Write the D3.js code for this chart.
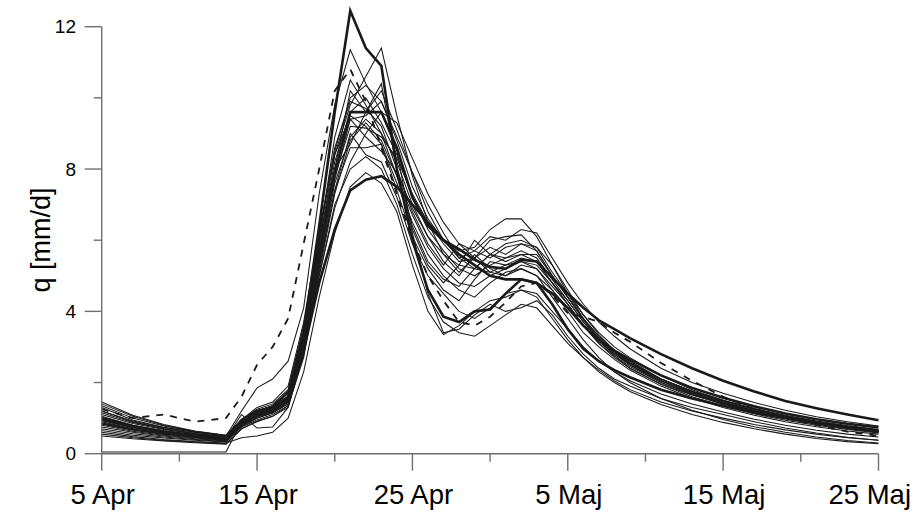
<!DOCTYPE html>
<html><head><meta charset="utf-8">
<script src="https://cdn.jsdelivr.net/npm/d3@7"></script>
<style>body{margin:0;background:#fff}svg{display:block}</style>
</head><body><svg id="c" width="917" height="514"></svg>
<script>
// day offsets from 5 Apr at which values are given
const days = [0,2,4,6,8, 9,10,11,12,13,14,15, 16,17,18, 19,20,21,22,23, 24,25,26,27,28,29,30, 31,32,33,34, 36,38,40,42,44,46,48,50];

const xTickDays = [0,10,20,30,40,50];
const xTickLabels = ["5 Apr","15 Apr","25 Apr","5 Maj","15 Maj","25 Maj"];
const xMinorDays = [5,15,25,35,45];
const yTicks = [0,4,8,12];
const yMinorTicks = [2,6,10];
const yTitle = "q [mm/d]";

// thin simulated series
const thinSeries = [
 [1.4,1.05,0.8,0.62,0.5, 1.2,1.85,2.1,2.6,4.1,7.3,9.8, 11.35,10.4,9.6, 8.5,6.2,4.5,3.4,3.5, 3.9,4.2,4.0,4.1,4.3,3.9,3.3, 2.8,2.4,2.1,1.9, 1.55,1.3,1.1,0.9,0.72,0.58,0.46,0.38],
 [1.1,0.85,0.68,0.56,0.46, 0.9,1.15,1.3,1.7,3.3,5.9,8.4, 9.8,10.6,11.4, 9.5,7.8,6.5,5.6,5.1, 5.5,6.0,6.1,6.15,5.7,5.0,4.4, 3.8,3.3,2.9,2.6, 2.1,1.75,1.45,1.2,1.0,0.85,0.72,0.62],
 [1.3,0.95,0.74,0.6,0.5, 0.88,1.2,1.35,1.75,3.5,6.1,8.5, 10.0,10.35,9.9, 8.8,7.5,6.6,6.0,5.7, 5.8,6.3,6.6,6.6,6.1,5.3,4.5, 3.8,3.2,2.75,2.4, 1.95,1.65,1.4,1.18,1.0,0.85,0.72,0.62],
 [0.9,0.7,0.57,0.48,0.4, 0.82,1.05,1.2,1.45,3.0,5.4,8.0, 10.2,9.6,10.4, 8.0,6.4,5.4,4.9,4.7, 5.2,5.6,5.5,5.7,5.5,4.9,4.3, 3.7,3.2,2.8,2.5, 2.05,1.72,1.45,1.22,1.03,0.88,0.75,0.64],
 [1.2,0.9,0.7,0.57,0.47, 0.9,1.2,1.35,1.7,3.3,5.8,8.0, 9.4,9.5,9.9, 8.9,7.9,7.0,6.2,5.5, 5.2,5.6,5.9,6.0,5.8,5.1,4.5, 3.9,3.4,3.0,2.7, 2.2,1.8,1.5,1.26,1.06,0.9,0.77,0.66],
 [0.75,0.6,0.5,0.42,0.36, 0.78,1.0,1.15,1.4,2.9,5.2,7.4, 8.6,8.6,8.7, 7.4,6.1,5.2,4.6,4.3, 4.9,5.4,5.3,5.5,5.4,4.8,4.2, 3.6,3.1,2.75,2.45, 2.0,1.68,1.42,1.2,1.02,0.86,0.74,0.63],
 [1.05,0.8,0.64,0.53,0.44, 1.1,0.72,0.75,1.3,2.8,5.0,7.0, 8.0,8.35,8.0, 7.0,5.6,4.4,3.7,3.4, 3.3,3.6,3.9,4.2,4.1,3.6,3.1, 2.7,2.35,2.05,1.8, 1.45,1.2,1.0,0.82,0.67,0.55,0.45,0.38],
 [0.6,0.48,0.4,0.34,0.3, 0.45,0.5,0.6,1.0,2.3,4.4,6.2, 7.5,7.9,7.6, 6.8,5.3,4.0,3.35,3.6, 4.0,4.3,4.4,4.6,4.4,3.8,3.2, 2.7,2.3,2.0,1.75, 1.38,1.1,0.88,0.7,0.55,0.43,0.34,0.28],
 [0.7,0.56,0.47,0.4,0.34, 0.8,1.0,1.15,1.45,3.0,5.6,7.8, 9.2,9.15,8.9, 8.3,7.3,6.5,5.9,5.4, 5.5,5.8,5.6,5.9,5.8,5.3,4.6, 3.9,3.35,2.9,2.55, 2.05,1.7,1.42,1.2,1.02,0.87,0.74,0.64],
 [1.15,0.88,0.7,0.57,0.47, 0.9,1.15,1.3,1.6,3.3,5.9,8.2, 9.6,10.0,9.3, 8.4,7.2,6.3,5.7,5.2, 5.0,5.3,5.5,5.6,5.6,5.0,4.4, 3.75,3.25,2.85,2.5, 2.0,1.66,1.4,1.18,1.0,0.85,0.72,0.6],
 [0.65,0.52,0.44,0.38,0.33, 0.75,0.95,1.1,1.35,2.8,5.3,7.6, 8.9,9.4,9.0, 8.2,7.0,6.1,5.4,5.0, 5.6,5.2,5.0,5.3,5.2,4.7,4.2, 3.6,3.15,2.8,2.5, 2.05,1.7,1.42,1.18,0.99,0.84,0.71,0.6],
 [1.35,1.0,0.78,0.62,0.52, 0.95,1.25,1.4,1.8,3.6,6.2,8.6, 9.9,9.7,9.2, 8.0,6.8,5.9,5.3,5.9, 5.7,5.5,5.8,5.9,5.7,5.0,4.4, 3.8,3.3,2.9,2.6, 2.1,1.75,1.48,1.25,1.06,0.9,0.77,0.67],
 [0.8,0.63,0.52,0.44,0.38, 0.8,1.0,1.15,1.4,2.8,5.0,6.9, 8.2,9.0,9.6, 9.3,8.3,7.3,6.5,5.9, 5.5,5.1,5.0,5.2,5.0,4.6,4.1, 3.6,3.2,2.85,2.55, 2.1,1.75,1.48,1.25,1.05,0.9,0.77,0.66],
 [0.05,0.05,0.05,0.05,0.05, 0.9,1.2,1.3,1.5,3.0,5.3,7.4, 9.0,8.4,8.2, 7.2,5.9,5.0,4.5,4.0, 3.8,4.1,4.5,4.6,4.5,4.0,3.5, 3.0,2.6,2.3,2.05, 1.68,1.4,1.17,0.97,0.8,0.66,0.55,0.47],
 [1.0,0.78,0.63,0.52,0.43, 0.85,1.1,1.25,1.55,3.2,6.0,8.9, 10.5,9.8,9.0, 7.8,6.3,5.3,4.8,5.3, 6.0,5.6,5.4,5.6,5.4,4.8,4.2, 3.6,3.1,2.7,2.4, 1.95,1.6,1.34,1.12,0.94,0.8,0.68,0.58],
 [0.55,0.45,0.38,0.33,0.28, 0.7,0.9,1.05,1.3,2.9,5.4,7.7, 9.4,8.9,8.5, 7.9,6.9,6.1,5.6,5.3, 5.2,5.1,5.3,5.4,5.3,4.8,4.3, 3.7,3.2,2.85,2.55, 2.1,1.76,1.5,1.27,1.08,0.92,0.79,0.68],
 [1.2,0.92,0.73,0.6,0.5, 0.92,1.2,1.35,1.75,3.4,6.0,8.0, 8.7,9.6,10.2, 9.1,7.9,6.8,6.0,5.5, 5.7,6.1,6.0,6.3,6.2,5.5,4.8, 4.2,3.7,3.3,2.95, 2.4,2.0,1.7,1.44,1.22,1.04,0.9,0.78],
 [1.45,1.08,0.82,0.64,0.52, 0.95,1.3,1.45,1.9,3.7,6.3,8.4, 9.5,9.2,8.7, 7.6,6.5,5.6,5.0,4.6, 4.4,4.8,5.1,5.2,5.0,4.4,3.8, 3.2,2.7,2.3,2.0, 1.55,1.22,0.96,0.76,0.6,0.47,0.37,0.3],
 [0.5,0.42,0.36,0.31,0.27, 0.7,0.92,1.05,1.35,2.7,5.1,7.3, 8.8,9.3,8.8, 7.8,6.7,5.8,5.2,4.8, 4.7,5.0,5.2,5.4,5.2,4.6,4.0, 3.4,3.0,2.65,2.35, 1.9,1.56,1.3,1.08,0.9,0.76,0.64,0.55]
];

// dashed series
const dashedSeries = [1.25,1.0,1.1,0.9,1.0, 1.6,2.5,3.0,3.8,5.9,8.0,10.2, 10.8,9.9,8.6, 7.3,6.0,5.0,4.3,3.7, 3.6,3.85,4.25,4.7,4.8,4.45,3.95, 3.85,3.7,3.4,3.15, 2.55,2.05,1.6,1.25,1.0,0.8,0.62,0.5];

// thick series
const thickA = [1.0,0.78,0.62,0.5,0.42, 0.95,1.2,1.3,1.6,3.4,6.4,9.6, 12.45,11.4,10.9, 8.0,6.0,4.6,3.85,3.7, 4.0,4.05,4.5,4.9,4.8,4.2,3.5, 2.95,2.6,2.35,2.15, 1.8,1.55,1.35,1.15,1.0,0.85,0.72,0.62];
const thickB = [0.95,0.75,0.62,0.52,0.45, 0.85,1.1,1.25,1.55,3.2,5.6,7.9, 9.6,9.6,9.6, 8.6,7.2,6.4,6.0,5.75, 5.45,5.25,5.2,5.45,5.4,4.95,4.5, 4.1,3.75,3.5,3.25, 2.8,2.4,2.05,1.75,1.48,1.28,1.1,0.94];
const thickC = [0.85,0.68,0.56,0.48,0.4, 0.8,1.05,1.2,1.5,2.9,4.8,6.3, 7.4,7.7,7.8, 7.5,7.0,6.5,6.0,5.6, 5.3,5.0,4.9,4.9,4.8,4.5,4.1, 3.6,3.2,2.9,2.65, 2.2,1.85,1.57,1.33,1.13,0.97,0.84,0.74];
const thickSeries = [thickA, thickB, thickC];

const svg = d3.select("#c");
const x = d3.scaleLinear().domain([0,50]).range([101.7, 878.5]);
const y = d3.scaleLinear().domain([0,12]).range([453.7, 26.7]);
const axisColor = "#6f6f6f";
const font = "Liberation Sans, Arial, Helvetica, sans-serif";

const line = d3.line().x((d,i)=>x(days[i])).y(d=>y(d));

const g = svg.append("g");
g.selectAll("path.thin").data(thinSeries).join("path")
  .attr("class","thin").attr("d", line)
  .attr("fill","none").attr("stroke","#1a1a1a").attr("stroke-width",1.05)
  .attr("stroke-linejoin","miter");
g.append("path").datum(dashedSeries).attr("d", line)
  .attr("fill","none").attr("stroke","#1a1a1a").attr("stroke-width",1.8)
  .attr("stroke-dasharray","7,7");
g.selectAll("path.thick").data(thickSeries).join("path")
  .attr("class","thick").attr("d", line)
  .attr("fill","none").attr("stroke","#1a1a1a").attr("stroke-width",2.6)
  .attr("stroke-linejoin","miter");

// axes
const ax = svg.append("g").attr("stroke", axisColor).attr("stroke-width",1.4).attr("fill","none");
ax.append("line").attr("x1", x(0)).attr("x2", x(0)).attr("y1", y(12)).attr("y2", y(0));
ax.append("line").attr("x1", x(0)).attr("x2", x(50)).attr("y1", y(0)).attr("y2", y(0));
ax.selectAll("line.yt").data(yTicks).join("line").attr("class","yt")
  .attr("x1", x(0)-17).attr("x2", x(0)).attr("y1", d=>y(d)).attr("y2", d=>y(d));
ax.selectAll("line.ym").data(yMinorTicks).join("line").attr("class","ym")
  .attr("x1", x(0)-8).attr("x2", x(0)).attr("y1", d=>y(d)).attr("y2", d=>y(d));
ax.selectAll("line.xt").data(xTickDays).join("line").attr("class","xt")
  .attr("x1", d=>x(d)).attr("x2", d=>x(d)).attr("y1", y(0)).attr("y2", y(0)+17);
ax.selectAll("line.xm").data(xMinorDays).join("line").attr("class","xm")
  .attr("x1", d=>x(d)).attr("x2", d=>x(d)).attr("y1", y(0)).attr("y2", y(0)+8);

svg.selectAll("text.yl").data(yTicks).join("text").attr("class","yl")
  .attr("x", 76).attr("y", d=>y(d)).attr("dy","0.35em")
  .attr("text-anchor","end").attr("font-family",font).attr("font-size",19)
  .attr("fill","#000").text(d=>d);
const last = xTickDays.length - 1;
svg.selectAll("text.xl").data(xTickDays).join("text").attr("class","xl")
  .attr("x", (d,i)=> i===last ? 911 : x(d)+1).attr("y", 504)
  .attr("text-anchor", (d,i)=> i===last ? "end" : "middle")
  .attr("font-family",font).attr("font-size",27.5)
  .attr("fill","#000").text((d,i)=>xTickLabels[i]);
svg.append("text").attr("transform","translate(50,240) rotate(-90)")
  .attr("text-anchor","middle").attr("font-family",font).attr("font-size",27)
  .attr("fill","#000").text(yTitle);
</script>
</body></html>
